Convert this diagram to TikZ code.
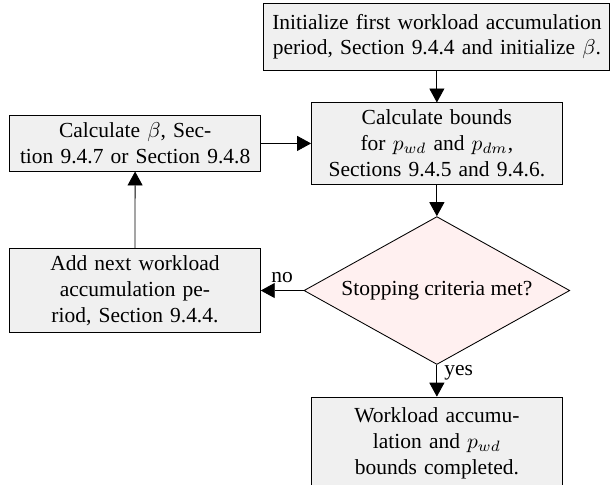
\documentclass[tikz,border=0pt]{standalone}
\usepackage{fontspec}
\setmainfont{Liberation Serif}
\usepackage{amsmath}
\usepackage{amssymb}
\usetikzlibrary{arrows.meta}
\usetikzlibrary{positioning}
\usetikzlibrary{shapes.geometric}

\tikzset{
  block/.style={draw, fill=black!6, text width=3.87cm, align=center},
  decision/.style={draw, diamond, fill=red!6, aspect=1.8, inner sep=0pt,
    minimum width=4.35cm, minimum height=2.42cm},
  flow/.style={draw, -{Triangle[width=7pt,length=6.5pt]}},
}

\begin{document}
\begin{tikzpicture}
    \useasboundingbox (0,0) rectangle (10,-7.93);

    \node [block, text width=5.43cm, minimum height=1.1cm] (init) at (7.15,-0.6)
      {Initialize first workload accumulation\\period, Section 9.4.4 and initialize $\beta$.};
    \node [block, below=0.52cm of init] (bounds)
      {Calculate bounds\\for $p_{wd}$ and $p_{dm}$,\\Sections 9.4.5 and 9.4.6.};
    \node [decision, below=0.52cm of bounds] (stop) {Stopping criteria met?};
    \node [block, below=0.52cm of stop, minimum height=1.52cm] (done)
      {Workload accumu-\\lation and $p_{wd}$\\bounds completed.};

    \node [block, left=0.82cm of bounds] (beta)
      {Calculate $\beta$, Sec-\\tion 9.4.7 or Section 9.4.8};
    \node [block, left=0.7cm of stop] (addnext)
      {Add next workload\\accumulation pe-\\riod, Section 9.4.4.};

    \draw [flow] (init) -- (bounds);
    \draw [flow] (bounds) -- (stop);
    \draw [flow] (stop) -- node [right, near start] {yes} (done);
    \draw [flow] (stop) -- node [above] {no} (addnext);
    \draw [flow] (addnext) -- (beta);
    \draw [flow] (beta) -- (bounds);
\end{tikzpicture}
\end{document}
